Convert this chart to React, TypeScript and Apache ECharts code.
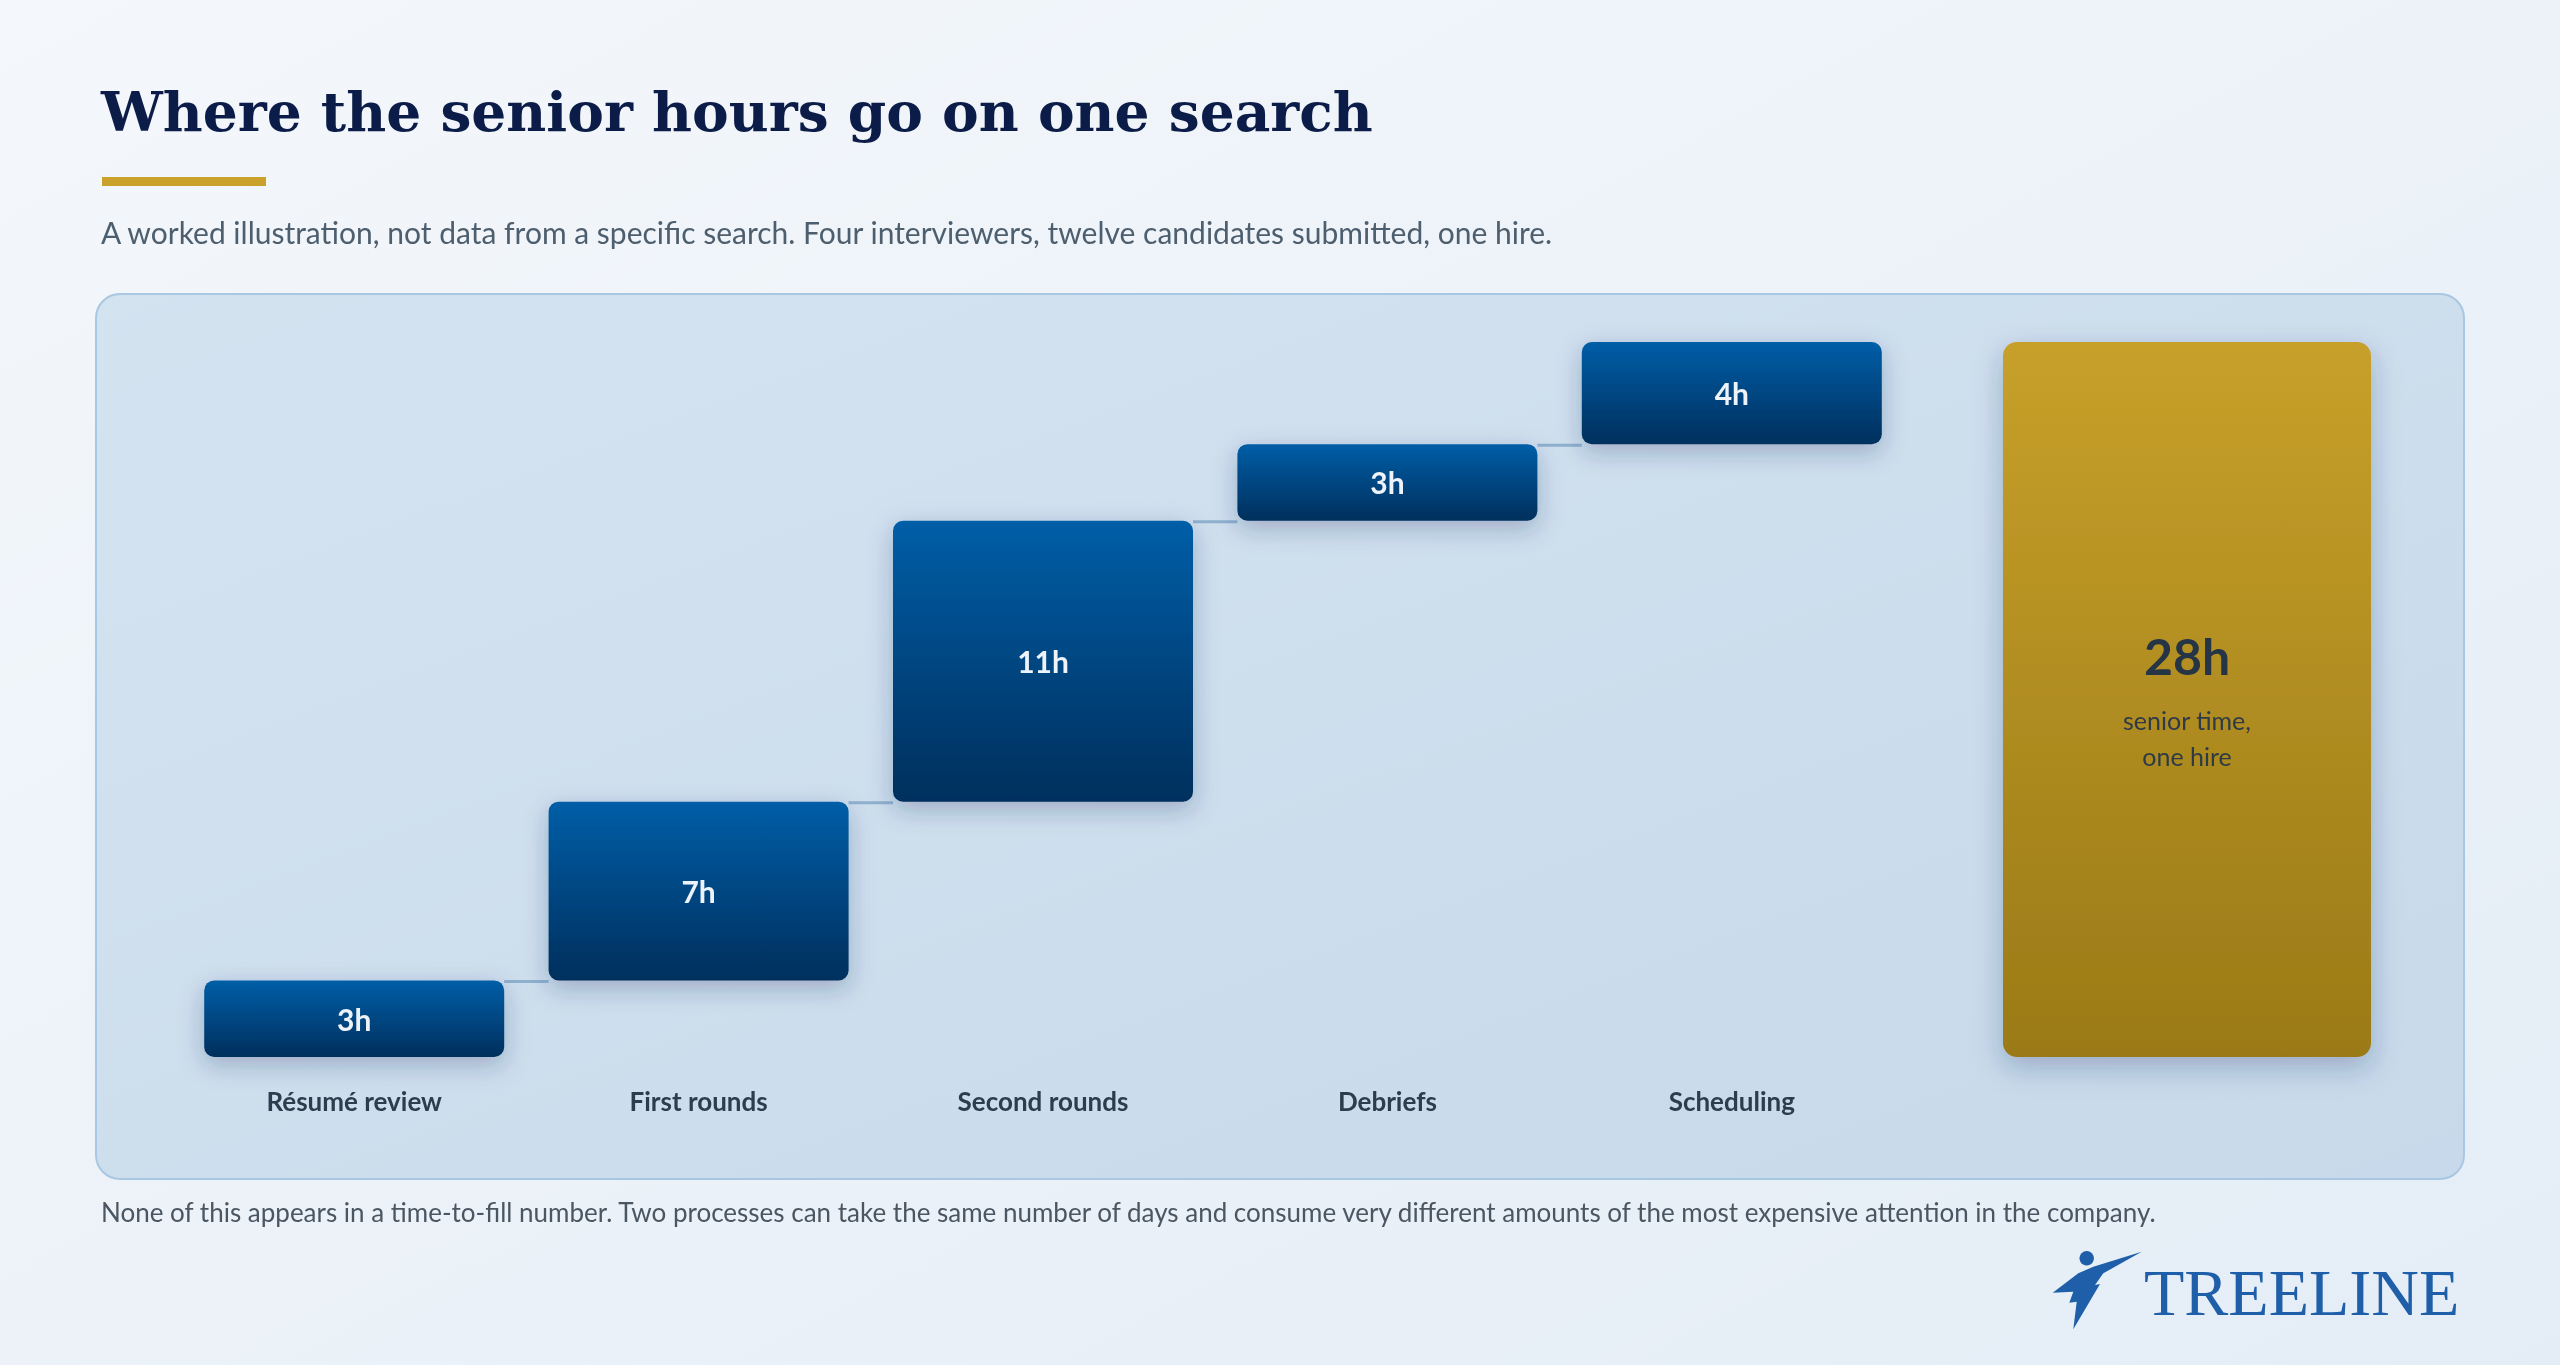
import React, { useEffect, useRef } from "react";
import * as echarts from "echarts";

const categories = ["Résumé review", "First rounds", "Second rounds", "Debriefs", "Scheduling"];
const hours = [3, 7, 11, 3, 4];
const totalCaption = ["senior time,", "one hire"];
const titleText = "Where the senior hours go on one search";
const subtitleText =
  "A worked illustration, not data from a specific search. Four interviewers, twelve candidates submitted, one hire.";
const footerText =
  "None of this appears in a time-to-fill number. Two processes can take the same number of days and consume very different amounts of the most expensive attention in the company.";
const brandText = "TREELINE";

const W = 2560;
const H = 1365;
const BAR_W = 300;
const TOTAL_W = 368;
const Y_MAX = 28;

export default function App() {
  const ref = useRef<HTMLDivElement>(null);

  useEffect(() => {
    if (!ref.current) return;
    const chart = echarts.init(ref.current, undefined, { renderer: "svg" });

    const bases: number[] = [];
    const tops: number[] = [];
    let run = 0;
    hours.forEach((h) => {
      bases.push(run);
      run += h;
      tops.push(run);
    });
    const total = run;

    const blueGrad = new echarts.graphic.LinearGradient(0, 0, 0, 1, [
      { offset: 0, color: "#005ea7" },
      { offset: 1, color: "#002f5d" },
    ]);
    const goldGrad = new echarts.graphic.LinearGradient(0, 0, 0, 1, [
      { offset: 0, color: "#c7a02a" },
      { offset: 1, color: "#9a7a17" },
    ]);

    const connectorData = tops.slice(0, -1).map((t, i) => [i, t]);

    const option: any = {
      animation: false,
      graphic: [
        {
          type: "rect",
          z: -20,
          shape: { x: 0, y: 0, width: W, height: H },
          style: {
            fill: new echarts.graphic.LinearGradient(0, 0, 1, 1, [
              { offset: 0, color: "#f4f7fb" },
              { offset: 1, color: "#e4edf6" },
            ]),
          },
          silent: true,
        },
        {
          type: "rect",
          z: -19,
          shape: { x: 96, y: 294, width: 2368, height: 885, r: 24 },
          style: {
            fill: new echarts.graphic.LinearGradient(0, 0, 1, 1, [
              { offset: 0, color: "#d4e3f0" },
              { offset: 1, color: "#c7d9ea" },
            ]),
            stroke: "#a8c7e3",
            lineWidth: 2,
          },
          silent: true,
        },
        {
          type: "text",
          z: -10,
          x: 101,
          y: 111,
          style: {
            text: titleText,
            fill: "#0b1c48",
            fontFamily: '"DejaVu Serif", serif',
            fontWeight: "bold",
            fontSize: 55,
            verticalAlign: "middle",
            align: "left",
          },
        },
        {
          type: "rect",
          z: -10,
          shape: { x: 102, y: 177, width: 164, height: 9 },
          style: { fill: "#c9a12b" },
        },
        {
          type: "text",
          z: -10,
          x: 101,
          y: 232,
          style: {
            text: subtitleText,
            fill: "#4d5e6e",
            fontFamily: "Lato, sans-serif",
            fontSize: 30,
            verticalAlign: "middle",
            align: "left",
          },
        },
        {
          type: "text",
          z: -10,
          x: 101,
          y: 1212,
          style: {
            text: footerText,
            fill: "#4a5662",
            fontFamily: "Lato, sans-serif",
            fontSize: 26,
            verticalAlign: "middle",
            align: "left",
          },
        },
        {
          type: "group",
          x: 2040,
          y: 1240,
          z: -10,
          children: [
            {
              type: "circle",
              shape: { cx: 46.7, cy: 18.3, r: 7.2 },
              style: { fill: "#1f5fa9" },
            },
            {
              type: "polygon",
              shape: {
                points: [
                  [101.7, 11.7],
                  [63.3, 33.3],
                  [55, 45],
                  [60, 44],
                  [33.3, 89.3],
                  [36.7, 61.7],
                  [29.3, 62.7],
                  [33.3, 51.7],
                  [12.7, 52.7],
                  [38.3, 33.3],
                  [53.3, 26.7],
                ],
              },
              style: { fill: "#1f5fa9" },
            },
          ],
        },
        {
          type: "text",
          z: -10,
          x: 2144,
          y: 1292,
          style: {
            text: brandText,
            fill: "#1f5fa9",
            fontFamily: '"Liberation Serif", serif',
            fontSize: 66,
            verticalAlign: "middle",
            align: "left",
          },
        },
      ],
      grid: [
        { left: 182, width: 1722, top: 342, height: 715, containLabel: false },
        { left: 1977, width: 420, top: 342, height: 715, containLabel: false },
      ],
      xAxis: [
        {
          type: "category",
          gridIndex: 0,
          data: categories,
          axisLine: { show: false },
          axisTick: { show: false },
          axisLabel: {
            margin: 31,
            color: "#2c3d4f",
            fontFamily: "Lato, sans-serif",
            fontWeight: "bold",
            fontSize: 26,
          },
        },
        {
          type: "category",
          gridIndex: 1,
          data: ["Total"],
          show: false,
        },
      ],
      yAxis: [
        { type: "value", gridIndex: 0, min: 0, max: Y_MAX, show: false, splitLine: { show: false } },
        { type: "value", gridIndex: 1, min: 0, max: Y_MAX, show: false, splitLine: { show: false } },
      ],
      series: [
        {
          type: "custom",
          name: "connectors",
          xAxisIndex: 0,
          yAxisIndex: 0,
          z: 1,
          silent: true,
          data: connectorData,
          renderItem: (params: any, api: any) => {
            const p = api.coord([api.value(0), api.value(1)]);
            const band = api.size([1, 0])[0];
            return {
              type: "line",
              shape: { x1: p[0] + BAR_W / 2, y1: p[1] + 1, x2: p[0] + band - BAR_W / 2, y2: p[1] + 1 },
              style: { stroke: "#8fb1cf", lineWidth: 3 },
            };
          },
        },
        {
          type: "bar",
          name: "base",
          stack: "w",
          xAxisIndex: 0,
          yAxisIndex: 0,
          barWidth: BAR_W,
          silent: true,
          itemStyle: { color: "transparent" },
          data: bases,
        },
        {
          type: "bar",
          name: "hours",
          stack: "w",
          xAxisIndex: 0,
          yAxisIndex: 0,
          barWidth: BAR_W,
          z: 3,
          itemStyle: {
            color: blueGrad,
            borderRadius: 10,
            shadowBlur: 24,
            shadowColor: "rgba(20,50,100,0.28)",
            shadowOffsetY: 8,
          },
          label: {
            show: true,
            position: "inside",
            formatter: (p: any) => `${p.value}h`,
            color: "#eef3f9",
            fontFamily: "Lato, sans-serif",
            fontWeight: "bold",
            fontSize: 30,
          },
          data: hours,
        },
        {
          type: "bar",
          name: "total",
          xAxisIndex: 1,
          yAxisIndex: 1,
          barWidth: TOTAL_W,
          z: 3,
          itemStyle: {
            color: goldGrad,
            borderRadius: 14,
            shadowBlur: 28,
            shadowColor: "rgba(20,50,100,0.28)",
            shadowOffsetY: 10,
          },
          label: {
            show: true,
            position: "inside",
            offset: [0, -8],
            formatter: () => `{big|${total}h}\n{small|${totalCaption[0]}}\n{small|${totalCaption[1]}}`,
            rich: {
              big: {
                fontFamily: "Lato, sans-serif",
                fontWeight: "bold",
                fontSize: 50,
                color: "#253545",
                lineHeight: 92,
                align: "center",
              },
              small: {
                fontFamily: "Lato, sans-serif",
                fontSize: 25,
                color: "#2e3b47",
                lineHeight: 36,
                align: "center",
              },
            },
          },
          data: [total],
        },
      ],
    };

    chart.setOption(option);
    return () => chart.dispose();
  }, []);

  return (
    <div
      ref={ref}
      style={{ position: "fixed", left: 0, top: 0, width: W, height: H }}
    />
  );
}
